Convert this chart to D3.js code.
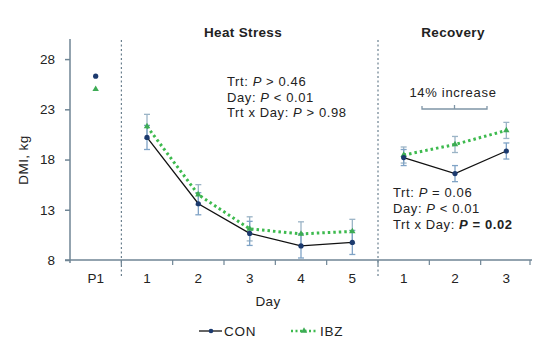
<!DOCTYPE html>
<html><head><meta charset="utf-8">
<script src="https://cdn.jsdelivr.net/npm/d3@7"></script>
<style>body{margin:0;background:#fff}svg{display:block;font-family:"Liberation Sans",Arial,sans-serif}</style>
</head><body><svg id="c" width="549" height="356"></svg>
<script>
const categories = ["P1","H1","H2","H3","H4","H5","R1","R2","R3"];
const tickLabels = ["P1","1","2","3","4","5","1","2","3"];
const conValues = [26.3,20.2,13.6,10.65,9.4,9.75,18.2,16.6,18.85];
const ibzValues = [25.0,21.3,14.5,11.1,10.6,10.85,18.45,19.5,20.9];
const conSE = [null,1.2,1.1,1.2,1.2,1.2,0.8,0.8,0.8];
const ibzSE = [null,1.2,1.0,1.2,1.2,1.2,0.8,0.8,0.8];
const yTicks = [8,13,18,23,28];
const heatStats = [["Trt: ","P"," > 0.46",false],["Day: ","P"," < 0.01",false],["Trt x Day: ","P"," > 0.98",false]];
const recStats = [["Trt: ","P"," = 0.06",false],["Day: ","P"," < 0.01",false],["Trt x Day: ","P"," = 0.02",true]];

const svg = d3.select("#c");
const axisColor = "#6f8595";
const x = d3.scaleBand().domain(categories).range([70,532]).padding(0);
const cx = c => x(c) + x.bandwidth()/2;
const y = d3.scaleLinear().domain([8,30]).range([260,39]);

// dividers
[x("H1"), x("R1")].forEach(px => {
  svg.append("line").attr("x1",px).attr("x2",px).attr("y1",40).attr("y2",276)
    .attr("stroke","#4d6778").attr("stroke-width",1).attr("stroke-dasharray","2,2.5");
});

// y axis
const ya = svg.append("g").attr("transform","translate(70,0)")
  .call(d3.axisLeft(y).tickValues(yTicks).tickSize(5).tickPadding(10).tickFormat(d3.format("d")));
ya.select(".domain").attr("d","M0,39V263").attr("stroke",axisColor).attr("stroke-width",1.5);
ya.selectAll(".tick line").attr("stroke",axisColor).attr("stroke-width",1.5).attr("x1",-5).attr("x2",0);
ya.selectAll(".tick text").attr("font-size",13.5).attr("fill","#222").attr("font-family","Liberation Sans, Arial, sans-serif");

// x axis
svg.append("line").attr("x1",65).attr("x2",532).attr("y1",260).attr("y2",260).attr("stroke",axisColor).attr("stroke-width",1.5);
const boundaries = categories.slice(1).map(c => x(c)).concat([x.range()[1]-2]);
svg.selectAll(".xt").data(boundaries).join("line").attr("class","xt")
  .attr("x1",d=>d).attr("x2",d=>d).attr("y1",260).attr("y2",265).attr("stroke",axisColor).attr("stroke-width",1.2);
svg.selectAll(".xl").data(categories).join("text").attr("class","xl")
  .attr("x",d=>cx(d)).attr("y",283).attr("text-anchor","middle").attr("font-size",13.5).attr("fill","#222")
  .text((d,i)=>tickLabels[i]);

// titles
svg.append("text").attr("x",23).attr("y",160).attr("transform","rotate(-90,23,160)").attr("dy","0.35em")
  .attr("text-anchor","middle").attr("font-size",13.5).attr("letter-spacing",0.4).attr("fill","#222").text("DMI, kg");
svg.append("text").attr("x",268).attr("y",306).attr("text-anchor","middle").attr("font-size",13.5).attr("letter-spacing",0.4).attr("fill","#222").text("Day");
svg.append("text").attr("x",243).attr("y",37).attr("text-anchor","middle").attr("font-size",13.5).attr("letter-spacing",0.35).attr("font-weight","bold").attr("fill","#222").text("Heat Stress");
svg.append("text").attr("x",453).attr("y",37).attr("text-anchor","middle").attr("font-size",13.5).attr("letter-spacing",0.35).attr("font-weight","bold").attr("fill","#222").text("Recovery");

// error bars
function errBars(vals, se, color) {
  const d = categories.map((c,i)=>({c, v:vals[i], s:se[i]})).filter(e=>e.s!=null);
  const g = svg.append("g").attr("stroke",color).attr("stroke-width",1.3);
  d.forEach(e => {
    g.append("line").attr("x1",cx(e.c)).attr("x2",cx(e.c)).attr("y1",y(e.v-e.s)).attr("y2",y(e.v+e.s));
    [e.v-e.s, e.v+e.s].forEach(t => g.append("line").attr("x1",cx(e.c)-3).attr("x2",cx(e.c)+3).attr("y1",y(t)).attr("y2",y(t)));
  });
}
errBars(ibzValues, ibzSE, "#9bb4c6");
errBars(conValues, conSE, "#7fa3c6");

// lines
const line = d3.line().x(d=>cx(d.c)).y(d=>y(d.v));
const seg = (vals, from, to) => categories.slice(from,to).map((c,k)=>({c, v:vals[from+k]}));
[[1,6],[6,9]].forEach(([a,b]) => {
  svg.append("path").datum(seg(conValues,a,b)).attr("d",line).attr("fill","none").attr("stroke","#111").attr("stroke-width",1.3);
  svg.append("path").datum(seg(ibzValues,a,b)).attr("d",line).attr("fill","none").attr("stroke","#3dba4e").attr("stroke-width",3).attr("stroke-dasharray","2.5,3");
});

// markers
const tri = d3.symbol().type(d3.symbolTriangle).size(18);
svg.selectAll(".ibzm").data(categories).join("path").attr("class","ibzm")
  .attr("d",tri).attr("transform",(d)=>`translate(${cx(d)},${y(ibzValues[categories.indexOf(d)])})`).attr("fill","#3dab55");
svg.selectAll(".conm").data(categories).join("circle").attr("class","conm")
  .attr("cx",d=>cx(d)).attr("cy",(d,i)=>y(conValues[i])).attr("r",2.6).attr("fill","#1c3a6e");

// stats text
function stats(rows, x0, y0, dy) {
  rows.forEach((r,i) => {
    const t = svg.append("text").attr("x",x0).attr("y",y0+i*dy).attr("font-size",13).attr("letter-spacing",0.6).attr("fill","#222");
    t.append("tspan").text(r[0]);
    t.append("tspan").attr("font-style","italic").attr("font-weight",r[3]?"bold":null).text(r[1]);
    t.append("tspan").attr("font-weight",r[3]?"bold":null).text(r[2]);
  });
}
stats(heatStats, 227, 86, 15.7);
stats(recStats, 393, 197, 16);

// bracket
const bx0 = 422, bx1 = 487, by = 109;
svg.append("path").attr("d",`M${bx0},${by-3}V${by}H${bx1}V${by-3}M${(bx0+bx1)/2},${by}V${by-4}`)
  .attr("fill","none").attr("stroke","#7f95a6").attr("stroke-width",1.3);
svg.append("text").attr("x",453).attr("y",97).attr("text-anchor","middle").attr("font-size",13).attr("letter-spacing",0.7).attr("fill","#222").text("14% increase");

// legend
const lg = svg.append("g");
lg.append("line").attr("x1",199).attr("x2",222).attr("y1",331).attr("y2",331).attr("stroke","#111").attr("stroke-width",1.3);
lg.append("circle").attr("cx",211).attr("cy",331).attr("r",2.3).attr("fill","#1c3a6e");
lg.append("text").attr("x",224).attr("y",336).attr("font-size",13.5).attr("letter-spacing",0.8).attr("fill","#222").text("CON");
lg.append("line").attr("x1",291).attr("x2",317).attr("y1",331).attr("y2",331).attr("stroke","#3dba4e").attr("stroke-width",2.5).attr("stroke-dasharray","2,2.5");
lg.append("path").attr("d",tri).attr("transform","translate(304,331)").attr("fill","#3dab55");
lg.append("text").attr("x",320).attr("y",336).attr("font-size",13.5).attr("letter-spacing",0.8).attr("fill","#222").text("IBZ");
</script></body></html>
